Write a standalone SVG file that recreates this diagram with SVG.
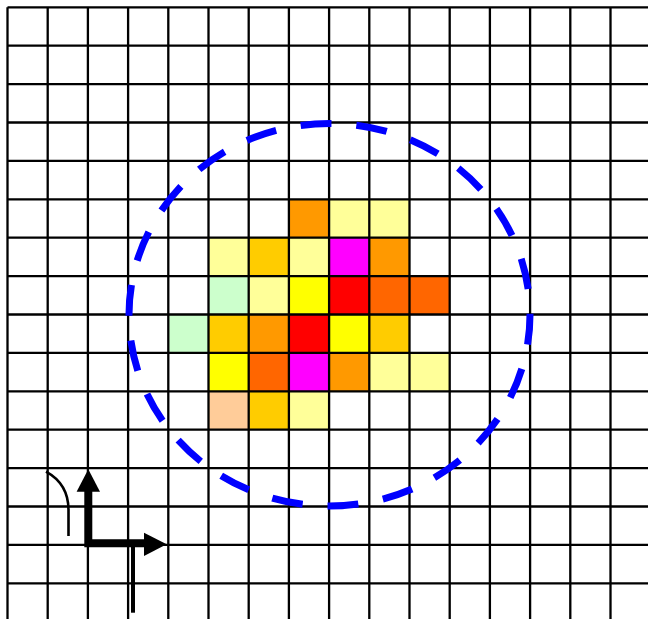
<svg xmlns="http://www.w3.org/2000/svg" width="648" height="619" viewBox="0 0 648 619">
<style>
.c{stroke:none}
.g{stroke:#000;stroke-width:2.3;fill:none}
.circ{fill:none;stroke:#0000FF;stroke-width:7;stroke-dasharray:31 25;stroke-dashoffset:1}
.k{fill:#000}
</style>
<rect width="648" height="619" fill="#fff"/>
<g id="cells" class="c">
<rect x="288.9" y="199.3" width="40.2" height="38.4" fill="#FF9900"/>
<rect x="329.1" y="199.3" width="40.2" height="38.4" fill="#FFFF99"/>
<rect x="369.3" y="199.3" width="40.2" height="38.4" fill="#FFFF99"/>
<rect x="208.5" y="237.7" width="40.2" height="38.4" fill="#FFFF99"/>
<rect x="248.7" y="237.7" width="40.2" height="38.4" fill="#FFCC00"/>
<rect x="288.9" y="237.7" width="40.2" height="38.4" fill="#FFFF99"/>
<rect x="329.1" y="237.7" width="40.2" height="38.4" fill="#FF00FF"/>
<rect x="369.3" y="237.7" width="40.2" height="38.4" fill="#FF9900"/>
<rect x="208.5" y="276.1" width="40.2" height="38.4" fill="#CCFFCC"/>
<rect x="248.7" y="276.1" width="40.2" height="38.4" fill="#FFFF99"/>
<rect x="288.9" y="276.1" width="40.2" height="38.4" fill="#FFFF00"/>
<rect x="329.1" y="276.1" width="40.2" height="38.4" fill="#FF0000"/>
<rect x="369.3" y="276.1" width="40.2" height="38.4" fill="#FF6600"/>
<rect x="409.5" y="276.1" width="40.2" height="38.4" fill="#FF6600"/>
<rect x="168.3" y="314.5" width="40.2" height="38.4" fill="#CCFFCC"/>
<rect x="208.5" y="314.5" width="40.2" height="38.4" fill="#FFCC00"/>
<rect x="248.7" y="314.5" width="40.2" height="38.4" fill="#FF9900"/>
<rect x="288.9" y="314.5" width="40.2" height="38.4" fill="#FF0000"/>
<rect x="329.1" y="314.5" width="40.2" height="38.4" fill="#FFFF00"/>
<rect x="369.3" y="314.5" width="40.2" height="38.4" fill="#FFCC00"/>
<rect x="208.5" y="352.9" width="40.2" height="38.4" fill="#FFFF00"/>
<rect x="248.7" y="352.9" width="40.2" height="38.4" fill="#FF6600"/>
<rect x="288.9" y="352.9" width="40.2" height="38.4" fill="#FF00FF"/>
<rect x="329.1" y="352.9" width="40.2" height="38.4" fill="#FF9900"/>
<rect x="369.3" y="352.9" width="40.2" height="38.4" fill="#FFFF99"/>
<rect x="409.5" y="352.9" width="40.2" height="38.4" fill="#FFFF99"/>
<rect x="208.5" y="391.3" width="40.2" height="38.4" fill="#FFCC99"/>
<rect x="248.7" y="391.3" width="40.2" height="38.4" fill="#FFCC00"/>
<rect x="288.9" y="391.3" width="40.2" height="38.4" fill="#FFFF99"/>
</g>
<g id="grid" class="g">
<path d="M7.5 7.3V619M47.7 7.3V619M87.9 7.3V619M128.1 7.3V619M168.3 7.3V619M208.5 7.3V619M248.7 7.3V619M288.9 7.3V619M329.1 7.3V619M369.3 7.3V619M409.5 7.3V619M449.7 7.3V619M489.9 7.3V619M530.1 7.3V619M570.3 7.3V619M610.5 7.3V619"/>
<path d="M7.5 7.3H648M7.5 45.7H648M7.5 84.1H648M7.5 122.5H648M7.5 160.9H648M7.5 199.3H648M7.5 237.7H648M7.5 276.1H648M7.5 314.5H648M7.5 352.9H648M7.5 391.3H648M7.5 429.7H648M7.5 468.1H648M7.5 506.5H648M7.5 544.9H648M7.5 583.3H648"/>
</g>
<g id="boundary">
<path class="circ" pathLength="1232" d="M530 314.75A200.5 191.25 0 0 1 129 314.75A200.5 191.25 0 0 1 530 314.75Z"/>
</g>
<g id="connectors">
<path d="M88.3 547.3V489M84.3 543.3H146" stroke="#000" stroke-width="8" fill="none"/>
<polygon class="k" points="88.3,469.3 100,491.7 76.6,491.7"/>
<polygon class="k" points="166.7,544.3 144,532.7 144,556"/>
<path d="M46 471.7Q68.5 484 68.5 510V536" stroke="#000" stroke-width="2.6" fill="none"/>
<path d="M133 547V612.7" stroke="#000" stroke-width="4" fill="none"/>
</g>
</svg>
